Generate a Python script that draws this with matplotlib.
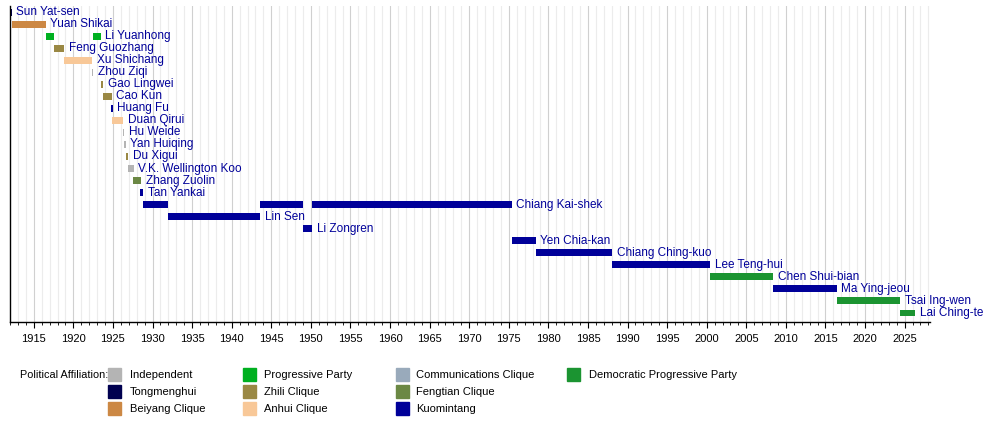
import matplotlib.pyplot as plt
from matplotlib.patches import Rectangle

colors = {
    'Independent': '#b4b4b4', 'Tongmenghui': '#000050', 'Beiyang Clique': '#cc8844',
    'Progressive Party': '#00b020', 'Zhili Clique': '#9a8844', 'Anhui Clique': '#f8c898',
    'Communications Clique': '#99aabb', 'Fengtian Clique': '#6b8844', 'Kuomintang': '#000099',
    'Democratic Progressive Party': '#1b9431',
}
legend_order = [['Independent', 'Tongmenghui', 'Beiyang Clique'],
                ['Progressive Party', 'Zhili Clique', 'Anhui Clique'],
                ['Communications Clique', 'Fengtian Clique', 'Kuomintang'],
                ['Democratic Progressive Party']]

names = ['Sun Yat-sen', 'Yuan Shikai', 'Li Yuanhong', 'Feng Guozhang', 'Xu Shichang', 'Zhou Ziqi',
         'Gao Lingwei', 'Cao Kun', 'Huang Fu', 'Duan Qirui', 'Hu Weide', 'Yan Huiqing', 'Du Xigui',
         'V.K. Wellington Koo', 'Zhang Zuolin', 'Tan Yankai', 'Chiang Kai-shek', 'Lin Sen',
         'Li Zongren', 'Yen Chia-kan', 'Chiang Ching-kuo', 'Lee Teng-hui', 'Chen Shui-bian',
         'Ma Ying-jeou', 'Tsai Ing-wen', 'Lai Ching-te']
terms = [
    [(1912.0, 1912.2, 'Tongmenghui')],
    [(1912.2, 1916.5, 'Beiyang Clique')],
    [(1916.5, 1917.5, 'Progressive Party'), (1922.45, 1923.45, 'Progressive Party')],
    [(1917.55, 1918.8, 'Zhili Clique')],
    [(1918.8, 1922.4, 'Anhui Clique')],
    [(1922.4, 1922.47, 'Independent')],
    [(1923.45, 1923.8, 'Zhili Clique')],
    [(1923.8, 1924.85, 'Zhili Clique')],
    [(1924.8, 1924.95, 'Kuomintang')],
    [(1924.9, 1926.3, 'Anhui Clique')],
    [(1926.3, 1926.4, 'Independent')],
    [(1926.4, 1926.6, 'Independent')],
    [(1926.6, 1926.9, 'Zhili Clique')],
    [(1926.9, 1927.6, 'Independent')],
    [(1927.5, 1928.6, 'Fengtian Clique')],
    [(1928.4, 1928.8, 'Kuomintang')],
    [(1928.8, 1931.95, 'Kuomintang'), (1943.6, 1949.05, 'Kuomintang'), (1950.2, 1975.35, 'Kuomintang')],
    [(1931.95, 1943.6, 'Kuomintang')],
    [(1949.05, 1950.2, 'Kuomintang')],
    [(1975.35, 1978.4, 'Kuomintang')],
    [(1978.4, 1988.05, 'Kuomintang')],
    [(1988.05, 2000.4, 'Kuomintang')],
    [(2000.4, 2008.4, 'Democratic Progressive Party')],
    [(2008.4, 2016.4, 'Kuomintang')],
    [(2016.4, 2024.4, 'Democratic Progressive Party')],
    [(2024.4, 2026.3, 'Democratic Progressive Party')],
]

plt.rcParams['font.family'] = ['Liberation Sans', 'DejaVu Sans']
fig = plt.figure(figsize=(10, 4.22), dpi=100)
H = 422
ax = fig.add_axes([0.010, 1 - 322 / H, 0.920, (322 - 6) / H])
ax.set_xlim(1912, 2028.2)
ax.set_ylim((322 - 12) / 12.04, -0.5)

for yr in range(1913, 2029):
    ax.axvline(yr, color='#d0d0d0' if yr % 5 == 0 else '#ececec', lw=0.8, zorder=0)

for i, (name, tl) in enumerate(zip(names, terms)):
    for s, e, party in tl:
        ax.barh(i, e - s, left=s, height=0.58, color=colors[party], zorder=2)
    end = tl[-1][1]
    ax.text(end + 0.6, i, name, va='center', ha='left', fontsize=8.5, color='#000099')

for sp in ['top', 'right']:
    ax.spines[sp].set_visible(False)
ax.spines['left'].set_linewidth(1)
ax.spines['bottom'].set_linewidth(1)
ax.set_yticks([])
ax.set_xticks(range(1915, 2030, 5))
ax.set_xticks(range(1912, 2029), minor=True)
ax.tick_params(axis='x', which='major', length=4, labelsize=8, pad=5)
ax.tick_params(axis='x', which='minor', length=2)

fig.text(20 / 1000, 1 - 375 / H, 'Political Affiliation:', fontsize=7.8, va='center')
sq_x = [108, 243, 396, 567]
tx_x = [130, 264, 416, 589]
rows_y = [375, 392, 409]
for c, col in enumerate(legend_order):
    for r, party in enumerate(col):
        y = rows_y[r]
        fig.add_artist(Rectangle((sq_x[c] / 1000, 1 - (y + 6) / H), 13 / 1000, 13 / H,
                                 color=colors[party], transform=fig.transFigure))
        fig.text(tx_x[c] / 1000, 1 - y / H, party, fontsize=8, va='center')

fig.savefig('out.png', dpi=100)
